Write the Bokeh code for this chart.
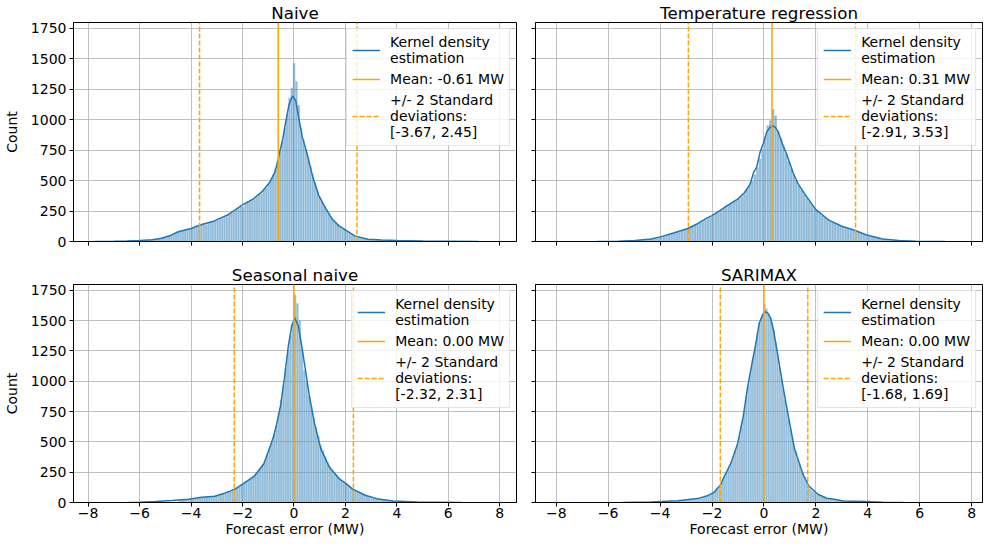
import numpy as np
from bokeh.plotting import figure
from bokeh.models import Legend, LegendItem, FixedTicker, Range1d, CustomLabelingPolicy
from bokeh.layouts import column, row
from bokeh.embed import file_html
from bokeh.resources import INLINE

# ---------------- data ----------------
titles = ["Naive", "Temperature regression", "Seasonal naive", "SARIMAX"]
means = [-0.61, 0.31, 0.00, 0.00]
std_lo = [-3.67, -2.91, -2.32, -1.68]
std_hi = [2.45, 3.53, 2.31, 1.69]

x_ticks = [-8, -6, -4, -2, 0, 2, 4, 6, 8]
x_tick_labels = ["\u22128", "\u22126", "\u22124", "\u22122", "0", "2", "4", "6", "8"]
y_ticks = [0, 250, 500, 750, 1000, 1250, 1500, 1750]

# histogram bins: first left edge, bin width, counts
naive_bin_start = -5.98
naive_bin_width = 0.09
naive_counts = [9, 10, 11, 12, 14, 16, 18, 22, 26, 30,
                34, 40, 45, 52, 60, 68, 80, 85, 90, 96,
                100, 105, 110, 115, 122, 128, 135, 150, 140, 152,
                158, 164, 170, 175, 182, 190, 200, 205, 228, 232,
                245, 258, 272, 288, 285, 312, 330, 332, 342, 352,
                365, 385, 395, 425, 440, 475, 510, 550, 600, 665,
                740, 830, 930, 1040, 1180, 1263,
                1465, 1316, 1120, 930, 830, 760, 690, 620, 550, 480,
                420, 370, 330, 295, 262, 230, 200, 178, 158, 138,
                122, 108, 96, 85, 74, 64, 52, 44, 38, 32,
                27, 23, 20, 18, 16, 15, 14, 13, 12, 12,
                11, 10, 10, 9, 8, 8, 7, 6, 6, 5]

temp_bin_start = -5.0
temp_bin_width = 0.1
temp_counts = [9, 10, 12, 14, 16, 19, 23, 27, 31, 35,
               40, 45, 52, 58, 64, 72, 78, 85, 92, 100,
               106, 114, 124, 134, 144, 155, 166, 178, 190, 202,
               216, 228, 242, 256, 268, 282, 300, 312, 325, 338,
               352, 370, 395, 430, 460, 500, 550, 610, 680, 760,
               860, 955, 995,
               1087, 1034, 905, 850, 790, 720, 660, 600, 550, 500,
               460, 420, 385, 355, 330, 300, 275, 255, 232, 212,
               195, 182, 170, 158, 148, 138, 128, 120, 113, 106,
               99, 92, 86, 78, 70, 62, 55, 48, 42, 36,
               30, 25, 21, 17, 14, 11, 9]

seasonal_bin_start = -4.5
seasonal_bin_width = 0.09
seasonal_counts = [18, 20, 22, 24, 27, 29, 31, 34, 37, 40,
                   42, 45, 48, 50, 51, 52, 54, 58, 64, 72,
                   80, 86, 92, 100, 110, 122, 136, 152, 165, 178,
                   190, 204, 218, 235, 258, 285, 315, 350, 395, 445,
                   500, 565, 640, 740, 850, 970, 1110, 1250, 1380, 1470,
                   1713, 1644, 1505, 1270, 1090, 1000, 880, 790, 700, 620,
                   550, 470, 430, 380, 335, 298, 270, 248, 225, 205,
                   188, 172, 158, 142, 128, 114, 102, 92, 82, 74,
                   66, 58, 52, 46, 40, 34, 30, 26, 23, 20,
                   17, 15, 13, 12, 11, 10, 9, 8, 7, 6]

sarimax_bin_start = -3.5
sarimax_bin_width = 0.07
sarimax_counts = [12, 13, 14, 15, 16, 17, 18, 19, 21, 22,
                  24, 26, 28, 30, 33, 36, 41, 46, 52, 58,
                  66, 76, 92, 108, 125, 145, 165, 190, 215, 245,
                  275, 305, 345, 385, 430, 480, 545, 620, 700, 790,
                  880, 970, 1060, 1150, 1240, 1320, 1400, 1480, 1520, 1560,
                  1638, 1600, 1560, 1530, 1480, 1420, 1320, 1220, 1120, 1030,
                  940, 850, 770, 690, 610, 540, 475, 420, 365, 320,
                  280, 245, 210, 175, 140, 115, 100, 88, 76, 66,
                  58, 51, 45, 40, 35, 31, 28, 26, 24, 22,
                  20, 18, 16, 15, 14, 13, 12, 11, 10, 9]

# kernel density estimates (in count units)
naive_kde_x = [-7.77, -7.0, -6.5, -6.0, -5.5, -5.15, -4.8, -4.5, -4.0, -3.68, -3.1, -2.6,
               -2.03, -1.58, -1.26, -0.94, -0.75, -0.65, -0.55, -0.44, -0.31, -0.19, -0.06,
               0.07, 0.19, 0.32, 0.51, 0.73, 0.98, 1.25, 1.5, 1.75, 2.0, 2.36, 2.87, 3.4,
               4.0, 5.0, 6.0, 7.19]
naive_kde_y = [0, 2, 4, 8, 14, 27, 50, 80, 107, 134, 169, 215,
               296, 350, 405, 487, 565, 640, 740, 837, 995, 1126, 1195,
               1155, 1008, 863, 720, 530, 370, 265, 180, 128, 95, 46, 19, 13,
               8, 4, 2, 0]

temp_kde_x = [-6.44, -5.6, -4.97, -4.34, -3.96, -3.45, -2.93, -2.56, -2.2, -2.0, -1.55,
              -1.0, -0.75, -0.54, -0.39, -0.28, -0.14, -0.03, 0.11, 0.23, 0.34, 0.45,
              0.55, 0.75, 0.87, 1.13, 1.3, 1.57, 2.0, 2.5, 3.0, 3.52, 3.93, 4.57, 5.2,
              5.84, 6.98]
temp_kde_y = [0, 3, 8, 21, 40, 72, 107, 146, 192, 212, 275,
              350, 400, 468, 570, 610, 740, 800, 900, 935, 952, 935,
              900, 780, 720, 560, 480, 390, 262, 175, 125, 90, 55, 21, 8,
              3, 0]

seasonal_kde_x = [-6.42, -6.0, -5.38, -4.74, -4.1, -3.59, -3.08, -2.7, -2.31, -1.97, -1.55,
                  -1.17, -0.92, -0.8, -0.69, -0.52, -0.35, -0.22, -0.09, 0.03, 0.17, 0.29,
                  0.42, 0.61, 0.8, 1.05, 1.38, 1.76, 2.0, 2.28, 2.77, 3.29, 3.85, 4.81,
                  5.5, 6.51]
seasonal_kde_y = [0, 3, 8, 16, 27, 43, 52, 77, 108, 155, 215,
                  320, 465, 540, 630, 800, 1060, 1290, 1455, 1524, 1455, 1306,
                  1130, 864, 650, 440, 290, 195, 160, 110, 60, 28, 12, 5,
                  3, 0]

sarimax_kde_x = [-5.46, -5.0, -4.34, -3.32, -2.56, -2.18, -1.91, -1.79, -1.68, -1.54, -1.28,
                 -1.02, -0.8, -0.63, -0.44, -0.32, -0.18, -0.06, 0.05, 0.14, 0.26, 0.38,
                 0.53, 0.72, 0.95, 1.17, 1.4, 1.51, 1.74, 2.08, 2.42, 2.66, 3.05, 3.93,
                 4.57, 5.37]
sarimax_kde_y = [0, 2, 5, 14, 32, 55, 85, 118, 140, 210, 320,
                 480, 706, 950, 1170, 1300, 1479, 1545, 1575, 1564, 1520, 1410,
                 1220, 975, 700, 450, 300, 229, 134, 68, 35, 29, 12, 8,
                 3, 0]

bin_starts = [naive_bin_start, temp_bin_start, seasonal_bin_start, sarimax_bin_start]
bin_widths = [naive_bin_width, temp_bin_width, seasonal_bin_width, sarimax_bin_width]
counts = [naive_counts, temp_counts, seasonal_counts, sarimax_counts]
kde_xs = [naive_kde_x, temp_kde_x, seasonal_kde_x, sarimax_kde_x]
kde_ys = [naive_kde_y, temp_kde_y, seasonal_kde_y, sarimax_kde_y]

# ---------------- style ----------------
BLUE = "#1f77b4"
ORANGE = "#ffa500"
FONT = "DejaVu Sans"

left_x_range = (-8.57, 8.65)
right_x_range = (-8.8, 8.42)
y_max = 1798

HIDE_LABELS = "for (const i of indices) { indices.unset(i) }\nreturn indices"


def make_panel(i, is_left, is_top):
    width = 524 if is_left else 460
    height = 253 if is_top else 287
    p = figure(
        width=width, height=height,
        x_range=Range1d(*(left_x_range if is_left else right_x_range)),
        y_range=Range1d(0, y_max),
        output_backend="svg", toolbar_location=None,
        min_border_left=69 if is_left else 11,
        min_border_right=8 if is_left else 2,
        min_border_top=21 if is_top else 31,
        min_border_bottom=12 if is_top else 38,
        background_fill_color="white", border_fill_color="white",
    )
    p.title.text = titles[i]
    p.title.align = "center"
    p.title.text_font = FONT
    p.title.text_font_size = "16.7px"
    p.title.text_font_style = "normal"
    p.title.text_color = "black"
    p.title.standoff = 0

    p.outline_line_color = "black"
    p.outline_line_width = 1

    for ax in (p.xaxis[0], p.yaxis[0]):
        ax.axis_line_color = "black"
        ax.major_tick_line_color = "black"
        ax.major_tick_in = 0
        ax.major_tick_out = 4
        ax.minor_tick_in = 0
        ax.minor_tick_out = 0
        ax.major_label_text_font = FONT
        ax.major_label_text_font_size = "14px"
        ax.major_label_text_color = "black"
        ax.major_label_standoff = 3
        ax.axis_label_text_font = FONT
        ax.axis_label_text_font_size = "14px"
        ax.axis_label_text_font_style = "normal"
        ax.axis_label_text_color = "black"

    p.xaxis.ticker = FixedTicker(ticks=x_ticks)
    p.xaxis.major_label_overrides = {t: l for t, l in zip(x_ticks, x_tick_labels)}
    p.yaxis.ticker = FixedTicker(ticks=y_ticks)

    if is_top:
        p.xaxis.major_label_text_font_size = "1px"
        p.xaxis.major_label_standoff = 0
        p.xaxis.major_label_policy = CustomLabelingPolicy(code=HIDE_LABELS)
    else:
        p.xaxis.major_label_standoff = 1
        p.xaxis.axis_label = "Forecast error (MW)"
        p.xaxis.axis_label_standoff = 0
    if is_left:
        p.yaxis.axis_label = "Count"
        p.yaxis.axis_label_standoff = 8
    else:
        p.yaxis.major_label_text_font_size = "1px"
        p.yaxis.major_label_standoff = 0
        p.yaxis.major_label_policy = CustomLabelingPolicy(code=HIDE_LABELS)

    p.xgrid.ticker = FixedTicker(ticks=x_ticks)
    p.ygrid.ticker = FixedTicker(ticks=y_ticks)
    for g in (p.xgrid[0], p.ygrid[0]):
        g.grid_line_color = "#b0b0b0"
        g.grid_line_width = 0.8

    c = np.array(counts[i], dtype=float)
    left = bin_starts[i] + bin_widths[i] * np.arange(len(c))
    right = left + bin_widths[i]
    p.quad(left=left, right=right, bottom=0, top=c,
           fill_color=BLUE, fill_alpha=0.5,
           line_color="white", line_width=0.4, line_alpha=0.5)

    r_kde = p.line(kde_xs[i], kde_ys[i], line_color=BLUE, line_width=1.5)

    r_mean = p.line(x=[means[i], means[i]], y=[0, y_max],
                    line_color=ORANGE, line_width=1.5)
    r_std = p.multi_line(xs=[[std_lo[i], std_lo[i]], [std_hi[i], std_hi[i]]],
                         ys=[[0, y_max], [0, y_max]],
                         line_color=ORANGE, line_width=1.5, line_dash="5 2")

    legend = Legend(items=[
        LegendItem(label="Kernel density\nestimation", renderers=[r_kde]),
        LegendItem(label="Mean: %.2f MW" % means[i], renderers=[r_mean]),
        LegendItem(label="+/- 2 Standard\ndeviations:\n[%.2f, %.2f]" % (std_lo[i], std_hi[i]),
                   renderers=[r_std]),
    ], location="top_right")
    legend.label_text_font = FONT
    legend.label_text_font_size = "14px"
    legend.label_text_color = "black"
    legend.label_text_line_height = 1.05
    legend.label_height = 14
    legend.glyph_height = 14
    legend.glyph_width = 28
    legend.label_standoff = 10
    legend.padding = 5
    legend.spacing = 5
    legend.margin = 6
    legend.border_line_color = "#cccccc"
    legend.background_fill_alpha = 0.8
    p.add_layout(legend)
    return p


p1 = make_panel(0, True, True)
p2 = make_panel(1, False, True)
p3 = make_panel(2, True, False)
p4 = make_panel(3, False, False)

layout = column(row(p1, p2), row(p3, p4))

open("out.html", "w").write(file_html(layout, INLINE))
